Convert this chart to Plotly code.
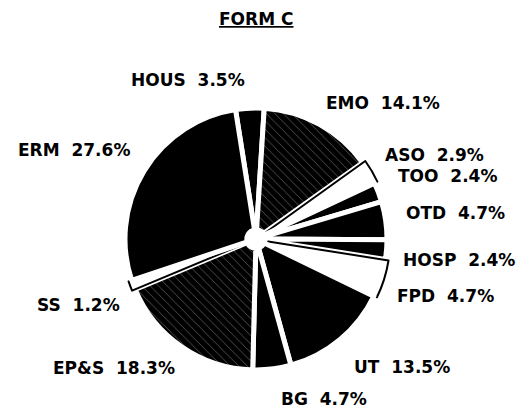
import plotly.graph_objects as go

labels = ["HOUS", "EMO", "ASO", "TOO", "OTD", "HOSP", "FPD", "UT", "BG", "EP&S", "SS", "ERM"]
values = [3.5, 14.1, 2.9, 2.4, 4.7, 2.4, 4.7, 13.5, 4.7, 18.3, 1.2, 27.6]
fills = ["black", "black", "white", "black", "black", "black", "white", "black", "black", "black", "white", "black"]
hatched = [False, True, False, False, False, False, False, False, False, True, False, False]

# label centre positions (pixels in 526x410 canvas)
label_pos = [(188, 80), (383, 103), (434, 155), (448, 176), (455, 213), (459, 260), (445, 296),
             (402, 367), (324, 399), (114, 368), (78, 305), (74, 150)]

W, H = 526, 410
cx, cy, r = 256, 239, 131
pull = [0.025 if f == "white" else 0.0 for f in fills]
maxpull = max(pull)
R = r * (1 + maxpull)
FONT = "DejaVu Sans"

fig = go.Figure(go.Pie(
    labels=labels, values=values, sort=False, direction="clockwise", rotation=-9,
    pull=pull, hole=0.07, textinfo="none", showlegend=False, hoverinfo="skip",
    marker=dict(
        colors=fills,
        line=dict(color=["black" if f == "white" else "white" for f in fills],
                  width=[2 if f == "white" else 5 for f in fills]),
        pattern=dict(shape=["\\" if h else "" for h in hatched], fgcolor="white",
                     bgcolor="black", size=6, solidity=0.1, fillmode="overlay"),
    ),
    domain=dict(x=[(cx - R) / W, (cx + R) / W], y=[(H - cy - R) / H, (H - cy + R) / H]),
))

annotations = []
annotations.append(dict(x=256 / W, y=1 - 19 / H, xref="paper", yref="paper", showarrow=False,
                        xanchor="center", yanchor="middle",
                        text="<b><u>FORM C</u></b>", font=dict(family=FONT, size=17, color="black")))
for lab, v, (px, py) in zip(labels, values, label_pos):
    annotations.append(dict(x=px / W, y=1 - py / H, xref="paper", yref="paper", showarrow=False,
                            xanchor="center", yanchor="middle",
                            text=f"<b>{lab}  {v}%</b>",
                            font=dict(family=FONT, size=17, color="black")))

fig.update_layout(width=W, height=H, margin=dict(l=0, r=0, t=0, b=0),
                  paper_bgcolor="white", plot_bgcolor="white", annotations=annotations)
fig.write_html("out.html", config={"displayModeBar": False},
               post_script="document.body.style.margin='0';")
